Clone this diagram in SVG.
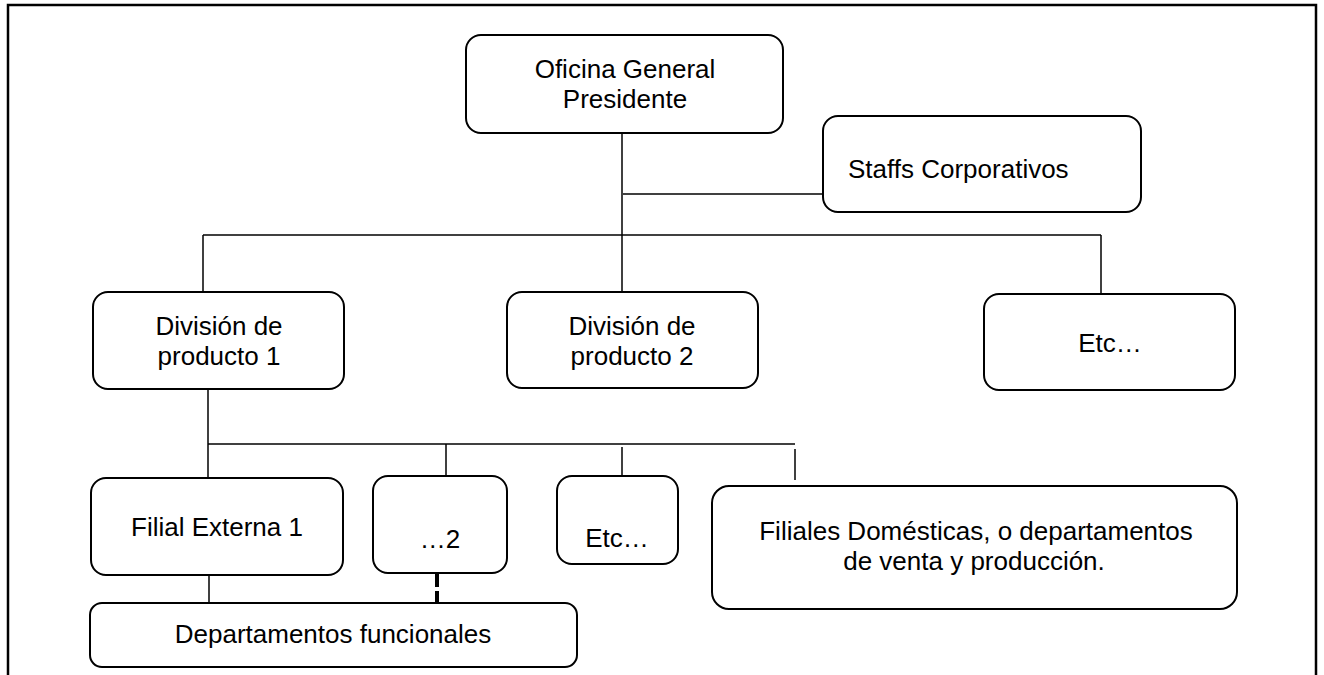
<svg xmlns="http://www.w3.org/2000/svg" width="1324" height="675" viewBox="0 0 1324 675">
  <style>
    .box { fill: #ffffff; stroke: #000000; stroke-width: 2; }
    .lbl { font-family: "Liberation Sans", Arial, sans-serif; font-size: 26px; fill: #000000; text-anchor: middle; }
    .lbl-left { font-family: "Liberation Sans", Arial, sans-serif; font-size: 26px; fill: #000000; text-anchor: start; }
    .wire { stroke: #000000; stroke-width: 1.5; fill: none; }
    .frame { fill: none; stroke: #000000; stroke-width: 2.5; }
  </style>
  <rect width="1324" height="675" fill="#ffffff"/>

  <!-- page frame (open at the bottom) -->
  <path class="frame" d="M8,680 V5 H1316 V680"/>

  <!-- connectors -->
  <g id="connectors">
    <line class="wire" x1="622" y1="126" x2="622" y2="299"/>
    <line class="wire" x1="623" y1="194" x2="823" y2="194"/>
    <line class="wire" x1="203" y1="235" x2="1101" y2="235"/>
    <line class="wire" x1="203" y1="235" x2="203" y2="299"/>
    <line class="wire" x1="1101" y1="235" x2="1101" y2="299"/>
    <line class="wire" x1="208" y1="382" x2="208" y2="478"/>
    <line class="wire" x1="208" y1="444" x2="795" y2="444"/>
    <line class="wire" x1="446" y1="444" x2="446" y2="476"/>
    <line class="wire" x1="622" y1="447" x2="622" y2="478"/>
    <line class="wire" x1="795" y1="449" x2="795" y2="480"/>
    <line class="wire" x1="209" y1="575" x2="209" y2="603"/>
    <line x1="437" y1="573" x2="437" y2="613" stroke="#000000" stroke-width="4" stroke-dasharray="14 4 14 5 2 100"/>
  </g>

  <g id="oficina-general">
    <rect class="box" x="466" y="35" width="317" height="98" rx="15"/>
    <text class="lbl" x="625" y="78">Oficina General</text>
    <text class="lbl" x="625" y="108">Presidente</text>
  </g>

  <g id="staffs-corporativos">
    <rect class="box" x="823" y="116" width="318" height="96" rx="15"/>
    <text class="lbl-left" x="848" y="178">Staffs Corporativos</text>
  </g>

  <g id="division-1">
    <rect class="box" x="93" y="292" width="251" height="97" rx="15"/>
    <text class="lbl" x="219" y="335">División de</text>
    <text class="lbl" x="219" y="365">producto 1</text>
  </g>

  <g id="division-2">
    <rect class="box" x="507" y="292" width="251" height="96" rx="15"/>
    <text class="lbl" x="632" y="335">División de</text>
    <text class="lbl" x="632" y="365">producto 2</text>
  </g>

  <g id="division-etc">
    <rect class="box" x="984" y="294" width="251" height="96" rx="15"/>
    <text class="lbl" x="1110" y="352">Etc…</text>
  </g>

  <g id="filial-externa-1">
    <rect class="box" x="91" y="478" width="252" height="97" rx="15"/>
    <text class="lbl" x="217" y="536">Filial Externa 1</text>
  </g>

  <g id="filial-2">
    <rect class="box" x="373" y="476" width="134" height="97" rx="15"/>
    <text class="lbl" x="440" y="548">…2</text>
  </g>

  <g id="filial-etc">
    <rect class="box" x="557" y="476" width="121" height="88" rx="15"/>
    <text class="lbl" x="617" y="547">Etc…</text>
  </g>

  <g id="filiales-domesticas">
    <rect class="box" x="712" y="486" width="525" height="123" rx="17"/>
    <text class="lbl" x="976" y="540">Filiales Domésticas, o departamentos</text>
    <text class="lbl" x="974" y="570">de venta y producción.</text>
  </g>

  <g id="departamentos-funcionales">
    <rect class="box" x="90" y="603" width="487" height="64" rx="12"/>
    <text class="lbl" x="333" y="643">Departamentos funcionales</text>
  </g>
</svg>
